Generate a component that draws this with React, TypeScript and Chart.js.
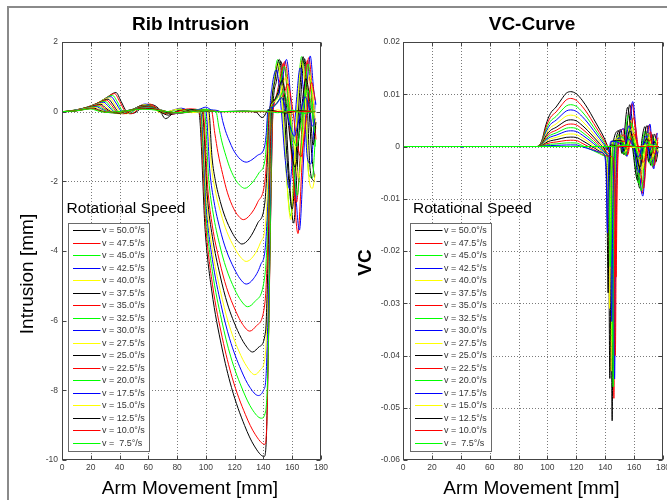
import React, { useEffect, useRef } from 'react';
import { Chart, registerables } from 'chart.js';
Chart.register(...registerables);

// ---------- labels ----------
const speedLabels = ['50.0', '47.5', '45.0', '42.5', '40.0', '37.5', '35.0', '32.5', '30.0', '27.5', '25.0', '22.5', '20.0', '17.5', '15.0', '12.5', '10.0', ' 7.5'];
const lineColors = ['#000000', '#ff0000', '#00ff00', '#0000ff', '#ffff00'];
const xTickStep = 20;
const riTickStep = 2;
const vcTickStep = 0.01;

// ---------- Rib intrusion [x mm, intrusion mm] ----------
const ri500 = [[0,0],[10,0.03],[22,0.18],[31,0.4],[37.5,0.55],[41,0.3],[45,0.0],[49,-0.05],[56,0.12],[62,0.2],[67,0.1],[72,-0.2],[77,-0.05],[83,0.06],[89,0.0],[95,0],[99.6,-3.47],[104.1,-5.15],[110.9,-6.73],[117.8,-7.92],[126.9,-9.01],[133.7,-9.6],[140.5,-9.9],[142,-9.4],[143.5,-6.5],[145,-3],[146.5,0],[149,0.87],[152,1.45],[155,0.29],[158,-1.92],[161,-3.2],[163.5,-1.6],[166,0.44],[168.5,1.52],[171,0.58],[173.5,-1.2],[175.5,-1.9]];
const ri475 = [[0,0],[10,0.02],[22,0.17],[30,0.38],[36.5,0.52],[40,0.3],[44,0.0],[48,-0.06],[55,0.14],[61,0.22],[66,0.1],[71,0.0],[77,-0.08],[84,0.05],[90,0.02],[95.5,0],[100.1,-3.34],[104.6,-4.97],[111.4,-6.49],[118.3,-7.64],[127.4,-8.69],[134.2,-9.26],[141,-9.55],[142.3,-9.0],[143.8,-6],[145.2,-2.5],[146.7,0],[149.5,0.4],[152,0.87],[155,1.45],[158,0.29],[161,-2.1],[164,-3.5],[166.5,-1.75],[169,0.44],[171.5,1.55],[174,0.58],[176.5,-0.8]];
const ri450 = [[0,0],[9,0.02],[21,0.16],[29,0.35],[35,0.47],[38.5,0.28],[42,0.02],[47,-0.04],[54,0.15],[60,0.2],[66,0.05],[72,-0.06],[78,0.04],[85,0.07],[91,-0.02],[96,0],[100.3,-3.08],[104.5,-4.58],[110.9,-5.98],[117.3,-7.04],[125.8,-8.01],[132.1,-8.54],[138.5,-8.8],[141.5,-8.6],[143,-7.5],[144.5,-4],[146,0],[147.5,0.9],[150,1.5],[153,0.3],[156,-1.8],[159,-3.0],[161.5,-1.5],[164,0.45],[166.5,1.58],[169,0.6],[171.5,-1.8],[174,-1.9],[176,-0.8]];
const ri425 = [[0,0],[9,0.02],[20,0.15],[28,0.32],[34,0.43],[37.5,0.25],[41,0.02],[46,-0.05],[52,0.12],[58,0.22],[64,0.1],[70,-0.05],[76,0.03],[83,0.1],[90,0.0],[96.5,0],[100.5,-2.85],[104.5,-4.24],[110.5,-5.54],[116.5,-6.52],[124.5,-7.42],[130.5,-7.91],[136.5,-8.15],[140,-8.0],[141.8,-7.6],[143.5,-5],[144.8,-2],[146,0],[149.5,0.4],[153,0.9],[156,1.5],[159,0.3],[162,-2.04],[165,-3.4],[167.5,-1.7],[170,0.45],[172.5,1.6],[175,0.6],[176.5,0.2]];
const ri400 = [[0,0],[8,0.02],[19,0.14],[27,0.3],[33,0.4],[36.5,0.22],[40,0.01],[45,-0.06],[51,0.1],[57,0.2],[63,0.12],[69,-0.04],[75,0.02],[82,0.08],[90,-0.03],[97,0],[100.7,-2.64],[104.4,-3.93],[110,-5.13],[115.5,-6.04],[122.9,-6.87],[128.5,-7.32],[134,-7.55],[138,-7.4],[141.5,-6.9],[143,-5],[144.5,-2],[145.5,0],[147.5,0.84],[150,1.4],[153,0.28],[156,-1.86],[159,-3.1],[161.5,-1.55],[164,0.42],[166.5,1.47],[169,0.56],[171.5,-1.86],[174,-2.2],[176,-1.8]];
const ri375 = [[0,0],[8,0.02],[18,0.13],[26,0.27],[32,0.36],[35.5,0.2],[39,0.0],[44,-0.05],[50,0.08],[56,0.18],[62,0.15],[68,0.0],[74,-0.1],[81,0.02],[88,0.06],[97.5,0],[101,-2.42],[104.5,-3.59],[109.8,-4.69],[115,-5.52],[122,-6.28],[127.3,-6.69],[132.5,-6.9],[137,-6.75],[141.5,-6.3],[143,-4.5],[144.5,-1.5],[145.5,0],[148,0.9],[151,1.5],[154,0.3],[157,-1.68],[160,-2.8],[162.5,-1.4],[165,0.45],[167.5,1.58],[170,0.6],[172.5,-1.68],[175,-2.0]];
const ri350 = [[0,0],[8,0.02],[17,0.12],[25,0.25],[31,0.33],[34.5,0.18],[38,0.0],[43,-0.06],[49,0.06],[55,0.16],[61,0.18],[67,0.05],[73,-0.06],[80,0.0],[88,0.08],[98,0],[101.3,-2.2],[104.5,-3.28],[109.4,-4.28],[114.3,-5.04],[120.8,-5.73],[125.6,-6.11],[130.5,-6.3],[135,-6.15],[141,-5.5],[142.8,-4],[144.3,-1.5],[145.2,0],[148,0.35],[151,0.84],[154,1.4],[157,0.28],[160,-1.56],[163,-2.6],[165.5,-1.3],[168,0.42],[170.5,1.47],[173,0.56],[175.5,-0.8]];
const ri325 = [[0,0],[7,0.02],[16,0.11],[24,0.22],[30,0.3],[33.5,0.15],[37,0.0],[42,-0.04],[48,0.05],[54,0.14],[60,0.17],[66,0.08],[72,-0.03],[79,-0.05],[87,0.05],[99,0],[102,-1.96],[105,-2.91],[109.5,-3.81],[114,-4.48],[120,-5.1],[124.5,-5.43],[129,-5.6],[134,-5.45],[141,-4.7],[142.7,-3.5],[144,-1.2],[145,0],[148,0.3],[151.5,0.78],[154.5,1.3],[157.5,0.26],[160.5,-1.44],[163.5,-2.4],[166,-1.2],[168.5,0.39],[171,1.37],[173.5,0.52],[176,-1.0]];
const ri300 = [[0,0],[7,0.02],[15,0.1],[23,0.2],[29,0.27],[32.5,0.14],[36,0.0],[41,-0.05],[47,0.04],[53,0.12],[59,0.16],[65,0.1],[71,0.0],[78,-0.06],[86,0.03],[93,0.06],[100,0],[102.8,-1.73],[105.6,-2.57],[109.8,-3.37],[114,-3.96],[119.6,-4.5],[123.8,-4.8],[128,-4.95],[133,-4.8],[138,-4.4],[141.5,-3.8],[143,-2.5],[144.5,0],[146,0.72],[149,1.2],[152,0.24],[155,-1.32],[158,-2.2],[160.5,-1.1],[163,0.36],[165.5,1.26],[168,0.48],[170.5,-1.32],[173,-1.5],[176,0.3]];
const ri275 = [[0,0],[6,0.02],[14,0.09],[22,0.18],[28,0.24],[31.5,0.12],[35,0.0],[40,-0.06],[46,0.03],[52,0.1],[58,0.15],[64,0.12],[70,0.02],[77,-0.05],[85,0.02],[93,0.05],[101,0],[103.7,-1.5],[106.4,-2.24],[110.5,-2.92],[114.5,-3.44],[119.9,-3.91],[124,-4.17],[128,-4.3],[133,-4.15],[138,-3.75],[141.5,-3.2],[143,-2],[144.3,0],[148,0.3],[152.5,0.6],[155.5,1.0],[158.5,0.2],[161.5,-1.14],[164.5,-1.9],[167,-0.95],[169.5,0.3],[172,1.05],[174.5,0.4],[176.5,-0.5]];
const ri250 = [[0,0],[6,0.02],[13,0.08],[21,0.16],[27,0.21],[30.5,0.1],[34,0.0],[39,-0.05],[45,0.02],[51,0.08],[57,0.14],[63,0.13],[69,0.04],[75,-0.04],[83,-0.02],[91,0.06],[102,0],[104.3,-1.33],[106.6,-1.98],[110,-2.58],[113.5,-3.04],[118.1,-3.46],[121.6,-3.69],[125,-3.8],[130,-3.65],[136,-3.2],[141,-2.6],[142.5,-1.6],[144,0],[147,0.3],[150,0.54],[153,0.9],[156,0.18],[159,-0.96],[162,-1.6],[164.5,-0.8],[167,0.27],[169.5,0.95],[172,0.36],[174.5,-0.96],[176.5,-0.3]];
const ri225 = [[0,0],[5,0.02],[12,0.07],[20,0.14],[26,0.19],[29.5,0.09],[33,0.0],[38,-0.04],[44,0.02],[50,0.07],[56,0.12],[62,0.13],[68,0.06],[74,-0.02],[82,-0.04],[90,0.03],[97,0.06],[104,0],[106.2,-0.62],[108.4,-1.18],[111.7,-1.8],[115,-2.33],[119.4,-2.79],[122.7,-3.0],[126,-3.1],[131,-2.95],[136,-2.6],[141,-2.0],[142.5,-1.2],[143.8,0],[148,0.2],[151,0.35],[154,0.48],[157,0.8],[160,0.16],[163,-0.78],[166,-1.3],[168.5,-0.65],[171,0.24],[173.5,0.84],[176,0.32]];
const ri200 = [[0,0],[5,0.02],[11,0.06],[19,0.12],[25,0.16],[28.5,0.08],[32,0.0],[37,-0.04],[43,0.01],[49,0.06],[55,0.1],[61,0.12],[67,0.07],[73,0.0],[81,-0.05],[89,0.02],[97,0.07],[107,0],[109,-0.44],[111,-0.84],[114,-1.28],[117,-1.65],[121,-1.98],[124,-2.13],[127,-2.2],[132,-2.05],[137,-1.75],[141,-1.4],[142.3,-0.8],[143.3,0],[147,0.15],[151,0.36],[154,0.6],[157,0.12],[160,-0.6],[163,-1.0],[165.5,-0.5],[168,0.18],[170.5,0.63],[173,0.24],[175.5,-0.6]];
const ri175 = [[0,0],[5,0.01],[10,0.05],[18,0.1],[24,0.14],[27.5,0.07],[31,0.0],[36,-0.03],[42,0.01],[48,0.05],[54,0.09],[60,0.11],[66,0.08],[72,0.01],[80,-0.05],[88,0.0],[95,0.06],[100,0.13],[104,0.05],[110,0],[111.8,-0.29],[113.6,-0.55],[116.3,-0.84],[119,-1.09],[122.6,-1.31],[125.3,-1.41],[128,-1.45],[132,-1.38],[136,-1.25],[140.5,-1.05],[142,-0.6],[143,0],[146,0.12],[149.5,0.24],[152.5,0.4],[155.5,0.08],[158.5,-0.42],[161.5,-0.7],[164,-0.35],[166.5,0.12],[169,0.42],[171.5,0.16],[174,-0.42],[176,-0.2]];
const ri150 = [[0,0],[5,0.01],[10,0.04],[17,0.09],[23,0.12],[26.5,0.06],[30,0.0],[35,-0.03],[41,0.0],[47,0.04],[53,0.08],[59,0.1],[65,0.08],[71,0.02],[79,-0.04],[87,-0.01],[95,0.04],[103,0.02],[112,0],[130,0.01],[145,0],[150,0.05],[158,-0.05],[166,0.04],[176,0]];
const ri125 = [[0,0],[5,0.01],[10,0.03],[16,0.07],[22,0.1],[25.5,0.05],[29,0.0],[34,-0.03],[40,0.0],[46,0.03],[52,0.07],[58,0.09],[64,0.08],[70,0.02],[78,-0.03],[86,-0.02],[94,0.03],[102,0.02],[110,0],[125,0.02],[135,-0.02],[139,-0.17],[141,-0.1],[143,0.05],[148,0.02],[156,-0.04],[165,0.03],[176,0]];
const ri100 = [[0,0],[5,0.01],[10,0.03],[15,0.06],[21,0.09],[24.5,0.04],[28,0.0],[33,-0.02],[39,0.0],[45,0.02],[51,0.06],[57,0.08],[63,0.07],[69,0.03],[77,-0.02],[85,-0.03],[93,0.02],[101,0.03],[110,0],[176,0]];
const ri075 = [[0,0],[5,0.01],[9,0.02],[14,0.05],[20,0.08],[23.5,0.04],[27,0.0],[32,-0.02],[38,0.0],[44,0.02],[50,0.05],[56,0.07],[62,0.06],[68,0.03],[76,-0.01],[84,-0.03],[92,0.01],[100,0.03],[108,0],[140,0.02],[150,-0.03],[160,0.04],[168,-0.05],[176,0.02]];

// ---------- VC curve [x mm, VC] ----------
const vc500 = [[0,0],[93,0],[96,0.00105],[99,0.0042],[102,0.0063],[106,0.00756],[110,0.00914],[113,0.01019],[116,0.0105],[120,0.01008],[124,0.00887],[128,0.00723],[132,0.00528],[136,0.00333],[139,0.0018],[142.3,-0.0005],[143.2,-0.0025],[144,-0.0184],[144.8,-0.0525],[145.6,-0.0158],[147.3,0.001],[151,0.0032],[153,-0.0016],[157,0.008],[160,0.0008],[164,-0.008],[167,0.0016],[169,0.004],[171.5,-0.0036],[174,0.0024],[176.5,-0.001]];
const vc475 = [[0,0],[93,0],[96,0.00092],[99,0.00368],[102,0.00552],[106,0.00662],[110,0.008],[113,0.00892],[116,0.0092],[120,0.00883],[124,0.0077],[128,0.0062],[132,0.00442],[136,0.00265],[139,0.00127],[143.5,-0.001],[144.4,-0.0025],[145.2,-0.0169],[146,-0.0482],[146.8,-0.0145],[148.5,0.001],[152.5,0.0033],[154.5,-0.0018],[158.5,0.0082],[161.5,0.0008],[165.5,-0.009],[168.5,0.0016],[170.5,0.0041],[173,-0.004],[175.5,0.0025]];
const vc450 = [[0,0],[93,0],[96,0.0008],[99,0.0032],[102,0.0048],[106,0.00576],[110,0.00696],[113,0.00776],[116,0.008],[120,0.00768],[124,0.00664],[128,0.00528],[132,0.00368],[136,0.00208],[139,0.00084],[143,-0.0012],[143.9,-0.0025],[144.7,-0.0161],[145.5,-0.046],[146.3,-0.0138],[148,0.001],[150,0.0024],[152,-0.0014],[156,0.006],[159,0.0006],[163,-0.007],[166,0.0012],[168,0.003],[170.5,-0.0032],[173,0.0018],[176,-0.002]];
const vc425 = [[0,0],[93,0],[96,0.0007],[99,0.0028],[102,0.0042],[106,0.00504],[110,0.00609],[113,0.00679],[116,0.007],[120,0.00672],[124,0.00575],[128,0.0045],[132,0.00304],[136,0.00158],[139,0.00045],[144,-0.0015],[144.9,-0.0025],[145.7,-0.0156],[146.5,-0.0445],[147.3,-0.0134],[149,0.001],[153,0.0034],[155,-0.0019],[159,0.0086],[162,0.0009],[166,-0.0095],[169,0.0017],[171,0.0043],[173.5,-0.0043],[176,0.0026]];
const vc400 = [[0,0],[93,0],[96,0.0006],[99,0.0024],[102,0.0036],[106,0.00432],[110,0.00522],[113,0.00582],[116,0.006],[120,0.00576],[124,0.00486],[128,0.00372],[132,0.0024],[136,0.00108],[139,0.00006],[141.5,-0.0012],[142.4,-0.0025],[143.2,-0.0151],[144,-0.043],[144.8,-0.0129],[146.5,0.001],[151.5,0.002],[153.5,-0.0012],[157.5,0.005],[160.5,0.0005],[164.5,-0.006],[167.5,0.001],[169.5,0.0025],[172,-0.0027],[174.5,0.0015],[176.5,-0.001]];
const vc375 = [[0,0],[93,0],[96,0.00051],[99,0.00204],[102,0.00306],[106,0.00367],[110,0.00444],[113,0.00495],[116,0.0051],[120,0.0049],[124,0.00406],[128,0.00301],[132,0.00181],[136,0.00061],[139,-0.00031],[140.7,-0.0012],[141.6,-0.0025],[142.4,-0.0155],[143.2,-0.0444],[144,-0.0133],[145.7,0.001],[149.5,0.003],[151.5,-0.0013],[155.5,0.0075],[158.5,0.0008],[162.5,-0.0065],[165.5,0.0015],[167.5,0.0038],[170,-0.0029],[172.5,0.0023],[175,-0.003],[176.5,-0.001]];
const vc350 = [[0,0],[93,0],[96,0.00043],[99,0.00172],[102,0.00258],[106,0.0031],[110,0.00374],[113,0.00417],[116,0.0043],[120,0.00413],[124,0.00336],[128,0.00241],[132,0.00134],[136,0.00026],[139,-0.00057],[144.5,-0.0018],[145.4,-0.0025],[146.2,-0.014],[147,-0.04],[147.8,-0.012],[149.5,0.001],[153.5,0.0022],[155.5,-0.0016],[159.5,0.0055],[162.5,0.0006],[166.5,-0.008],[169.5,0.0011],[171.5,0.0028],[174,-0.0036],[176.5,0.0017]];
const vc325 = [[0,0],[93,0],[96,0.00036],[99,0.00144],[102,0.00216],[106,0.00259],[110,0.00313],[113,0.00349],[116,0.0036],[120,0.00346],[124,0.00274],[128,0.00188],[132,0.00091],[136,-0.00006],[139,-0.0008],[142.5,-0.0018],[143.4,-0.0025],[144.2,-0.0131],[145,-0.0375],[145.8,-0.0113],[147.5,0.001],[152,0.0018],[154,-0.0017],[158,0.0045],[161,0.0005],[165,-0.0085],[168,0.0009],[170,0.0023],[172.5,-0.0038],[175,0.0014]];
const vc300 = [[0,0],[93,0],[96,0.0003],[99,0.0012],[102,0.0018],[106,0.00216],[110,0.00261],[113,0.00291],[116,0.003],[120,0.00288],[124,0.00221],[128,0.00142],[132,0.00054],[136,-0.00034],[139,-0.00102],[142,-0.0018],[142.9,-0.0025],[143.7,-0.0117],[144.5,-0.0335],[145.3,-0.01],[147,0.001],[150.5,0.0016],[152.5,-0.001],[156.5,0.004],[159.5,0.0004],[163.5,-0.005],[166.5,0.0008],[168.5,0.002],[171,-0.0023],[173.5,0.0012],[176,-0.0015]];
const vc275 = [[0,0],[93,0],[96,0.00024],[99,0.00096],[102,0.00144],[106,0.00173],[110,0.00209],[113,0.00233],[116,0.0024],[120,0.0023],[124,0.00168],[128,0.00096],[132,0.00017],[136,-0.00062],[139,-0.00123],[140.5,-0.0017],[141.4,-0.0025],[142.2,-0.0109],[143,-0.031],[143.8,-0.0093],[145.5,0.001],[152.5,0.0014],[154.5,-0.0009],[158.5,0.0035],[161.5,0.0004],[165.5,-0.0045],[168.5,0.0007],[170.5,0.0018],[173,-0.002],[175.5,0.0011]];
const vc250 = [[0,0],[93,0],[96,0.00018],[99,0.00072],[102,0.00108],[106,0.0013],[110,0.00157],[113,0.00175],[116,0.0018],[120,0.00173],[124,0.00115],[128,0.0005],[132,-0.0002],[136,-0.00091],[139,-0.00144],[139.5,-0.0018],[140.4,-0.0025],[141.2,-0.0098],[142,-0.028],[142.8,-0.0084],[144.5,0.001],[151,0.0012],[153,-0.0008],[157,0.003],[160,0.0003],[164,-0.004],[167,0.0006],[169,0.0015],[171.5,-0.0018],[174,0.0009],[176.5,-0.0005]];
const vc225 = [[0,0],[93,0],[96,0.00012],[99,0.00048],[102,0.00072],[106,0.00086],[110,0.00104],[113,0.00116],[116,0.0012],[120,0.00115],[124,0.00062],[128,0.00004],[132,-0.00058],[136,-0.00119],[139,-0.00166],[145,-0.002],[145.9,-0.0025],[146.7,-0.0088],[147.5,-0.025],[148.3,-0.0075],[150,0.001],[153.5,0.001],[155.5,-0.0006],[159.5,0.0025],[162.5,0.0003],[166.5,-0.003],[169.5,0.0005],[171.5,0.0013],[174,-0.0014],[176.5,0.0008]];
const vc200 = [[0,0],[93,0],[96,0.00007],[99,0.00028],[102,0.00042],[106,0.0005],[110,0.00061],[113,0.00068],[116,0.0007],[120,0.00067],[124,0.0002],[128,-0.00031],[132,-0.00084],[136,-0.00136],[139,-0.00176],[141,-0.002],[141.9,-0.0028],[142.7,-0.008],[143.5,-0.023],[144.3,-0.0069],[146,0.001],[151.5,0.0008],[153.5,-0.0005],[157.5,0.002],[160.5,0.0002],[164.5,-0.0025],[167.5,0.0004],[169.5,0.001],[172,-0.0011],[174.5,0.0006],[176.5,-0.0003]];
const vc175 = [[0,0],[40,0],[41,-0.0002],[42,0],[93,0],[96,0.00003],[99,0.00012],[102,0.00018],[106,0.00022],[110,0.00026],[113,0.00029],[116,0.0003],[120,0.00029],[124,-0.00004],[128,-0.00039],[132,-0.00074],[136,-0.0011],[139,-0.00137],[139.9,-0.0022],[140.7,-0.0058],[141.5,-0.0165],[142.3,-0.005],[144,0.001],[150,0.0006],[152,-0.0004],[156,0.0015],[159,0.0002],[163,-0.002],[166,0.0003],[168,0.0008],[170.5,-0.0009],[173,0.0005],[176,-0.0002]];
const vc150 = [[0,0],[140,0],[150,0.0002],[160,-0.0002],[170,0.0003],[177,0]];
const vc125 = [[0,0],[138,0],[141,-0.0006],[144,0.0003],[150,0],[177,0]];
const vc100 = [[0,0],[177,0]];
const vc075 = [[0,0],[145,0],[155,0.0003],[165,-0.0003],[172,0.0004],[176,-0.0008]];

const intrusionSeries = [ri500, ri475, ri450, ri425, ri400, ri375, ri350, ri325, ri300, ri275, ri250, ri225, ri200, ri175, ri150, ri125, ri100, ri075];
const vcSeries = [vc500, vc475, vc450, vc425, vc400, vc375, vc350, vc325, vc300, vc275, vc250, vc225, vc200, vc175, vc150, vc125, vc100, vc075];

const FONT = "'Liberation Sans', Arial, Helvetica, sans-serif";

interface PanelCfg {
  title: string;
  yTitle: string;
  yTitleBold: boolean;
  yTitleX: number;
  yTitleY: number;
  legendLeft: number;
  legendTitleX: number;
}

function makeDecor(cfg: PanelCfg) {
  return {
    id: 'matlabDecor',
    beforeDatasetsDraw(chart: any) {
      const { ctx, chartArea: a, scales } = chart;
      const xs = scales.x;
      const ys = scales.y;
      ctx.save();
      ctx.strokeStyle = '#7a7a7a';
      ctx.lineWidth = 1;
      ctx.setLineDash([1, 2]);
      for (const t of xs.ticks) {
        const px = Math.round(xs.getPixelForValue(t.value)) + 0.5;
        if (px <= a.left + 1.5 || px >= a.right - 1.5) continue;
        ctx.beginPath(); ctx.moveTo(px, a.top); ctx.lineTo(px, a.bottom); ctx.stroke();
      }
      for (const t of ys.ticks) {
        const py = Math.round(ys.getPixelForValue(t.value)) + 0.5;
        if (py <= a.top + 1.5 || py >= a.bottom - 1.5) continue;
        ctx.beginPath(); ctx.moveTo(a.left, py); ctx.lineTo(a.right, py); ctx.stroke();
      }
      ctx.restore();
    },
    afterDatasetsDraw(chart: any) {
      const { ctx, chartArea: a, scales } = chart;
      const xs = scales.x;
      const ys = scales.y;
      ctx.save();
      const L = Math.round(a.left) + 0.5, R = Math.round(a.right) - 0.5;
      const T = Math.round(a.top) + 0.5, B = Math.round(a.bottom) - 0.5;
      ctx.strokeStyle = '#444';
      ctx.lineWidth = 1;
      ctx.setLineDash([]);
      ctx.strokeRect(L, T, R - L, B - T);
      const tl = 4;
      for (const t of xs.ticks) {
        const px = Math.round(xs.getPixelForValue(t.value)) + 0.5;
        ctx.beginPath();
        ctx.moveTo(px, B); ctx.lineTo(px, B - tl);
        ctx.moveTo(px, T); ctx.lineTo(px, T + tl);
        ctx.stroke();
      }
      for (const t of ys.ticks) {
        const py = Math.round(ys.getPixelForValue(t.value)) + 0.5;
        ctx.beginPath();
        ctx.moveTo(L, py); ctx.lineTo(L + tl, py);
        ctx.moveTo(R, py); ctx.lineTo(R - tl, py);
        ctx.stroke();
      }
      // legend
      const bx = cfg.legendLeft, by = 223, bw = 81, bh = 228;
      ctx.fillStyle = '#ffffff';
      ctx.fillRect(bx, by, bw, bh);
      ctx.strokeStyle = '#6a6a6a';
      ctx.strokeRect(bx + 0.5, by + 0.5, bw, bh);
      ctx.font = `9px ${FONT}`;
      ctx.textBaseline = 'middle';
      ctx.textAlign = 'left';
      speedLabels.forEach((s, i) => {
        const yy = Math.round(230 + i * 12.53) + 0.5;
        ctx.strokeStyle = lineColors[i % lineColors.length];
        ctx.beginPath(); ctx.moveTo(bx + 5, yy); ctx.lineTo(bx + 32.5, yy); ctx.stroke();
        ctx.fillStyle = '#333';
        ctx.fillText(`v = ${s}°/s`, bx + 34, yy);
      });
      ctx.fillStyle = '#000';
      ctx.textBaseline = 'alphabetic';
      ctx.font = `15.5px ${FONT}`;
      ctx.fillText('Rotational Speed', cfg.legendTitleX, 213);
      const cx = (a.left + a.right) / 2;
      ctx.textAlign = 'center';
      ctx.font = `bold 19px ${FONT}`;
      ctx.fillText(cfg.title, cx - 1, 30);
      ctx.font = `19px ${FONT}`;
      ctx.fillText('Arm Movement [mm]', cx - 1.5, 494);
      ctx.save();
      ctx.translate(cfg.yTitleX, cfg.yTitleY);
      ctx.rotate(-Math.PI / 2);
      ctx.font = `${cfg.yTitleBold ? 'bold ' : ''}19px ${FONT}`;
      ctx.fillText(cfg.yTitle, 0, 0);
      ctx.restore();
      ctx.restore();
    },
  };
}

function makeConfig(series: number[][][], yMin: number, yMax: number, yStep: number, yAxisWidth: number, padRight: number, cfg: PanelCfg, yLabelPad: number): any {
  const datasets = series.map((pts, i) => ({
    label: `v = ${speedLabels[i]}°/s`,
    data: pts.map((p) => ({ x: p[0], y: p[1] })),
    borderColor: lineColors[i % lineColors.length],
    borderWidth: 1,
    pointRadius: 0,
    fill: false,
    cubicInterpolationMode: 'monotone',
    order: series.length - 1 - i,
  }));
  const tickFont = { family: FONT, size: 8.5 };
  return {
    type: 'line',
    data: { datasets },
    plugins: [makeDecor(cfg)],
    options: {
      responsive: false,
      maintainAspectRatio: false,
      animation: false,
      devicePixelRatio: 1,
      events: [],
      layout: { padding: { left: 0, right: padRight, top: 42, bottom: 0 } },
      plugins: { legend: { display: false }, title: { display: false }, tooltip: { enabled: false } },
      scales: {
        x: {
          type: 'linear',
          min: 0,
          max: 180,
          grid: { display: false, drawTicks: false },
          border: { display: false },
          ticks: { stepSize: xTickStep, autoSkip: false, maxRotation: 0, padding: 3, color: '#404040', font: tickFont },
          afterFit: (s: any) => { s.height = 40; },
        },
        y: {
          type: 'linear',
          min: yMin,
          max: yMax,
          grid: { display: false, drawTicks: false },
          border: { display: false },
          ticks: {
            stepSize: yStep,
            autoSkip: false,
            padding: yLabelPad,
            color: '#404040',
            font: tickFont,
            callback: (v: any) => String(parseFloat(Number(v).toFixed(3))),
          },
          afterFit: (s: any) => { s.width = yAxisWidth; },
        },
      },
    },
  };
}

export default function App() {
  const leftRef = useRef<HTMLCanvasElement>(null);
  const rightRef = useRef<HTMLCanvasElement>(null);
  useEffect(() => {
    const c1 = new Chart(leftRef.current as HTMLCanvasElement, makeConfig(intrusionSeries, -10, 2, riTickStep, 62, 12, {
      title: 'Rib Intrusion', yTitle: 'Intrusion [mm]', yTitleBold: false, yTitleX: 33, yTitleY: 274, legendLeft: 68, legendTitleX: 66.5,
    }, 4));
    const c2 = new Chart(rightRef.current as HTMLCanvasElement, makeConfig(vcSeries, -0.06, 0.02, vcTickStep, 70, 30, {
      title: 'VC-Curve', yTitle: 'VC', yTitleBold: true, yTitleX: 37.5, yTitleY: 262.5, legendLeft: 77, legendTitleX: 80,
    }, 3));
    return () => { c1.destroy(); c2.destroy(); };
  }, []);
  return (
    <div style={{ position: 'fixed', left: 0, top: 0, width: 667, height: 500, overflow: 'hidden', background: '#fff' }}>
      <div style={{ position: 'absolute', left: 7, top: 6, width: 700, height: 600, borderTop: '2px solid #8a8a8a', borderLeft: '2px solid #8a8a8a' }} />
      <canvas ref={leftRef} width={333} height={500} style={{ position: 'absolute', left: 0, top: 0, width: 333, height: 500 }} />
      <canvas ref={rightRef} width={360} height={500} style={{ position: 'absolute', left: 333, top: 0, width: 360, height: 500 }} />
    </div>
  );
}
